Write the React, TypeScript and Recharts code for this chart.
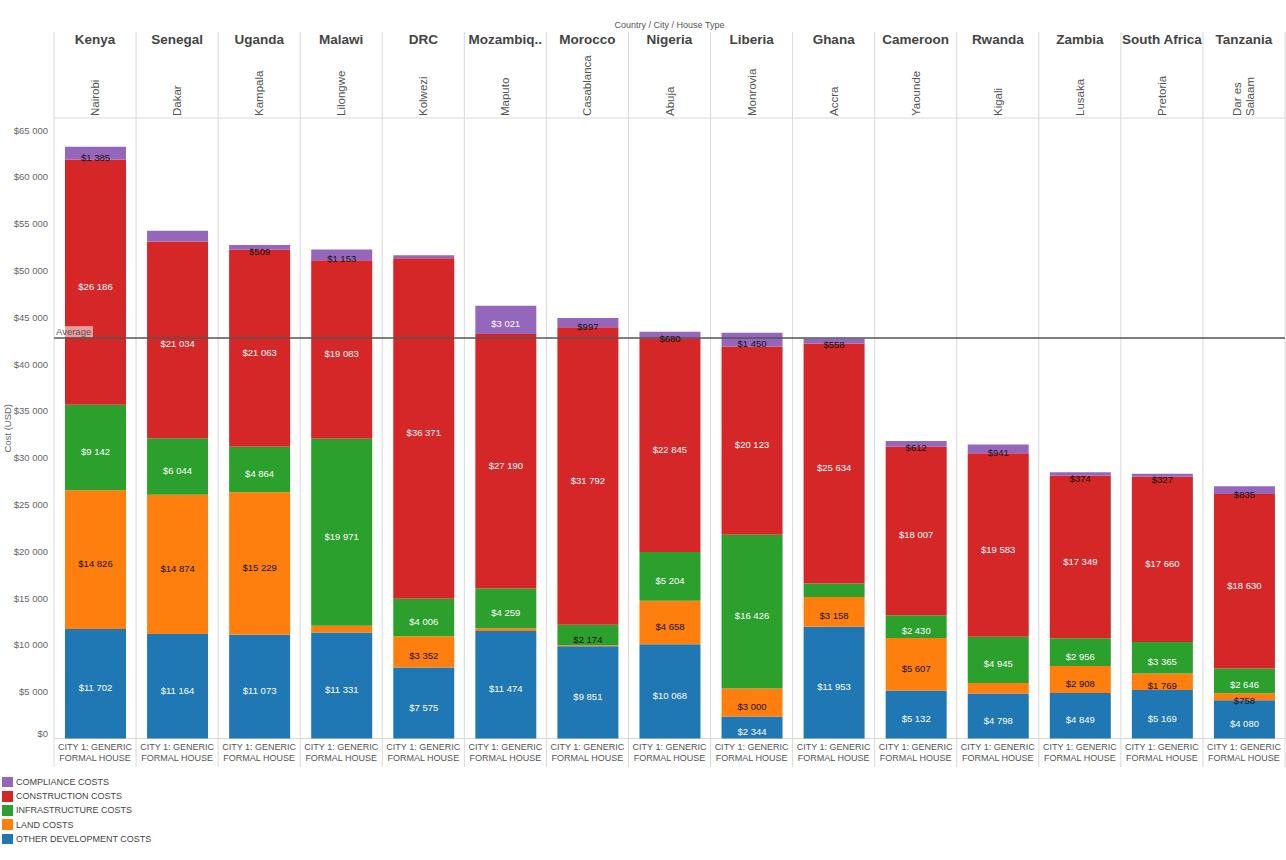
import React from 'react';
import { BarChart, Bar, XAxis, YAxis, CartesianGrid, ReferenceLine, LabelList, Legend } from 'recharts';

const countries = ['Kenya', 'Senegal', 'Uganda', 'Malawi', 'DRC', 'Mozambiq..', 'Morocco', 'Nigeria', 'Liberia', 'Ghana', 'Cameroon', 'Rwanda', 'Zambia', 'South Africa', 'Tanzania'];
const cities = ['Nairobi', 'Dakar', 'Kampala', 'Lilongwe', 'Kolwezi', 'Maputo', 'Casablanca', 'Abuja', 'Monrovia', 'Accra', 'Yaounde', 'Kigali', 'Lusaka', 'Pretoria', 'Dar es Salaam'];
const otherCosts = [11702, 11164, 11073, 11331, 7575, 11474, 9851, 10068, 2344, 11953, 5132, 4798, 4849, 5169, 4080];
const landCosts = [14826, 14874, 15229, 720, 3352, 300, 120, 4658, 3000, 3158, 5607, 1140, 2908, 1769, 758];
const infraCosts = [9142, 6044, 4864, 19971, 4006, 4259, 2174, 5204, 16426, 1450, 2430, 4945, 2956, 3365, 2646];
const constructionCosts = [26186, 21034, 21063, 19083, 36371, 27190, 31792, 22845, 20123, 25634, 18007, 19583, 17349, 17660, 18630];
const complianceCosts = [1385, 1130, 509, 1153, 330, 3021, 997, 680, 1450, 558, 612, 941, 374, 327, 835];
const yTicks = [0, 5000, 10000, 15000, 20000, 25000, 30000, 35000, 40000, 45000, 50000, 55000, 60000, 65000];
const houseTypeLines = ['CITY 1: GENERIC', 'FORMAL HOUSE'];
const headerTitle = 'Country / City / House Type';
const yTitle = 'Cost (USD)';

const hiddenLabels: Record<string, string[]> = {
  compliance: ['Senegal', 'DRC'],
  land: ['Malawi', 'Mozambiq..', 'Morocco', 'Rwanda'],
  infra: ['Ghana'],
};

const series = [
  { key: 'other', name: 'OTHER DEVELOPMENT COSTS', color: '#1f77b4', darkText: false },
  { key: 'land', name: 'LAND COSTS', color: '#ff7f0e', darkText: true },
  { key: 'infra', name: 'INFRASTRUCTURE COSTS', color: '#2ca02c', darkText: false },
  { key: 'construction', name: 'CONSTRUCTION COSTS', color: '#d62728', darkText: false },
  { key: 'compliance', name: 'COMPLIANCE COSTS', color: '#9467bd', darkText: false },
];

const data = countries.map((c, i) => ({
  country: c,
  city: cities[i],
  other: otherCosts[i],
  land: landCosts[i],
  infra: infraCosts[i],
  construction: constructionCosts[i],
  compliance: complianceCosts[i],
}));

const totals = data.map((d) => d.other + d.land + d.infra + d.construction + d.compliance);
const average = totals.reduce((a, b) => a + b, 0) / totals.length;

const fmt = (v: number) => '$' + String(Math.round(v)).replace(/\B(?=(\d{3})+(?!\d))/g, ' ');

const FONT = '"Liberation Sans", Arial, Helvetica, sans-serif';
const SEP = '#d9d9d9';

const makeLabel = (key: string, darkText: boolean) => (props: any) => {
  const { x, y, width, height, value, index } = props;
  const name = countries[index];
  if (hiddenLabels[key] && hiddenLabels[key].includes(name)) return null;
  const h = Math.abs(Number(height));
  const white = !darkText && h >= 21;
  return (
    <text
      x={Number(x) + Number(width) / 2}
      y={Number(y) + Number(height) / 2 + 4}
      textAnchor="middle"
      dominantBaseline="central"
      fontSize={9.5}
      fontFamily={FONT}
      fill={white ? '#ffffff' : '#111111'}
    >
      {fmt(Number(value))}
    </text>
  );
};

const wrapCity = (s: string) => {
  if (s.length <= 11) return [s];
  const idx = s.lastIndexOf(' ');
  return idx > 0 ? [s.slice(0, idx), s.slice(idx + 1)] : [s];
};

const TopTick = (props: any) => {
  const { x, y, payload, width } = props;
  const idx = payload && payload.index != null ? payload.index : props.index;
  const n = countries.length;
  const band = (width || 1231.5) / n;
  const lines = wrapCity(cities[idx] || '');
  return (
    <g>
      <line x1={x - band / 2} x2={x - band / 2} y1={y - 86} y2={y} stroke={SEP} />
      {idx === n - 1 && <line x1={x + band / 2} x2={x + band / 2} y1={y - 86} y2={y} stroke={SEP} />}
      <text x={x} y={y - 79} textAnchor="middle" dominantBaseline="central" fontSize={13.5} fontWeight="bold" fill="#444" fontFamily={FONT}>
        {payload.value}
      </text>
      {lines.map((l, i) => {
        const lx = x + (i - (lines.length - 1) / 2) * 13;
        const ly = y - 2;
        return (
          <text key={i} x={lx} y={ly} transform={`rotate(-90 ${lx} ${ly})`} textAnchor="start" dominantBaseline="central" fontSize={11.5} fill="#555" fontFamily={FONT}>
            {l}
          </text>
        );
      })}
    </g>
  );
};

const BottomTick = (props: any) => {
  const { x, y, payload, width } = props;
  const idx = payload && payload.index != null ? payload.index : props.index;
  const n = countries.length;
  const band = (width || 1231.5) / n;
  return (
    <g>
      <line x1={x - band / 2} x2={x - band / 2} y1={y} y2={y + 28.5} stroke={SEP} />
      {idx === n - 1 && <line x1={x + band / 2} x2={x + band / 2} y1={y} y2={y + 28.5} stroke={SEP} />}
      {houseTypeLines.map((l, i) => (
        <text key={i} x={x} y={y + 8.5 + i * 10.5} textAnchor="middle" dominantBaseline="central" fontSize={9} fill="#555" fontFamily={FONT}>
          {l}
        </text>
      ))}
    </g>
  );
};

const YTick = (props: any) => {
  const { x, y, payload } = props;
  const yy = payload.value === 0 ? y - 5 : y;
  return (
    <text x={x} y={yy} textAnchor="end" dominantBaseline="central" fontSize={9.5} fill="#666" fontFamily={FONT}>
      {fmt(payload.value)}
    </text>
  );
};

const YTitle = (props: any) => {
  const vb = props.viewBox || { x: 0, y: 118, width: 54, height: 620 };
  const cx = vb.x + 7;
  const cy = vb.y + vb.height / 2;
  return (
    <text x={cx} y={cy} transform={`rotate(-90 ${cx} ${cy})`} textAnchor="middle" dominantBaseline="central" fontSize={9.5} fill="#666" fontFamily={FONT}>
      {yTitle}
    </text>
  );
};

const HeaderTitle = (props: any) => {
  const vb = props.viewBox || { x: 54, y: 32, width: 1231, height: 86 };
  return (
    <text x={vb.x + vb.width / 2} y={vb.y - 7.5} textAnchor="middle" dominantBaseline="central" fontSize={9} fill="#555" fontFamily={FONT}>
      {headerTitle}
    </text>
  );
};

const AverageLabel = (props: any) => {
  const vb = props.viewBox || { x: 54, y: 339 };
  return (
    <g>
      <rect x={vb.x + 0.5} y={vb.y - 12} width={38.5} height={11} fill="#ffffff" fillOpacity={0.55} />
      <text x={vb.x + 2} y={vb.y - 6.5} dominantBaseline="central" fontSize={9.5} fill="#555" fontFamily={FONT}>
        Average
      </text>
    </g>
  );
};

const LegendContent = () => (
  <div style={{ fontFamily: FONT }}>
    {[...series].reverse().map((s) => (
      <div key={s.key} style={{ display: 'flex', alignItems: 'center', height: 14.2 }}>
        <div style={{ width: 10.5, height: 10.5, background: s.color, marginLeft: 2, marginRight: 3.5 }} />
        <span style={{ fontSize: 9, color: '#444', whiteSpace: 'nowrap' }}>{s.name}</span>
      </div>
    ))}
  </div>
);

export default function App() {
  const n = countries.length;
  return (
    <div style={{ position: 'absolute', left: 0, top: 0, width: 1286, height: 860, background: '#fff', fontFamily: FONT }}>
      <BarChart width={1286} height={860} data={data} margin={{ top: 32, right: 1, bottom: 93, left: 0 }}>
        <CartesianGrid
          stroke={SEP}
          verticalCoordinatesGenerator={({ offset }: any) => Array.from({ length: n + 1 }, (_, i) => offset.left + (i * offset.width) / n)}
          horizontalCoordinatesGenerator={({ offset }: any) => [offset.top, offset.top + offset.height]}
        />
        <XAxis
          xAxisId="top"
          orientation="top"
          dataKey="country"
          height={86}
          interval={0}
          axisLine={false}
          tickLine={false}
          tickSize={0}
          tickMargin={0}
          tick={<TopTick />}
          label={<HeaderTitle />}
        />
        <XAxis
          dataKey="country"
          height={28.5}
          interval={0}
          axisLine={false}
          tickLine={false}
          tickSize={0}
          tickMargin={0}
          tick={<BottomTick />}
        />
        <YAxis
          width={54}
          domain={[0, 66300]}
          ticks={yTicks}
          interval={0}
          axisLine={false}
          tickLine={false}
          tickSize={0}
          tickMargin={6}
          tick={<YTick />}
          label={<YTitle />}
        />
        {series.map((s) => (
          <Bar key={s.key} dataKey={s.key} name={s.name} stackId="a" fill={s.color} barSize={61} isAnimationActive={false}>
            <LabelList dataKey={s.key} content={makeLabel(s.key, s.darkText)} />
          </Bar>
        ))}
        <ReferenceLine y={average} stroke="#555" strokeWidth={1.5} label={<AverageLabel />} />
        <Legend
          layout="horizontal"
          align="center"
          verticalAlign="middle"
          wrapperStyle={{ left: 0, top: 775, width: 220, height: 72 }}
          content={<LegendContent />}
        />
      </BarChart>
    </div>
  );
}
